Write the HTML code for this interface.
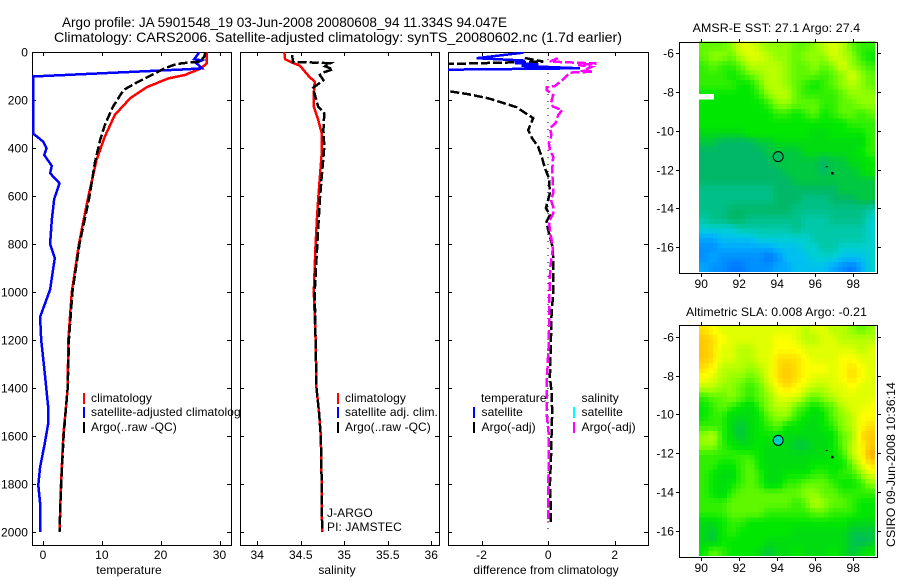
<!DOCTYPE html>
<html>
<head>
<meta charset="utf-8">
<title>Argo profile 5901548_19</title>
<style>
html,body{margin:0;padding:0;background:#fff;}
svg{display:block;}
text{font-family:"Liberation Sans",sans-serif;font-size:12px;fill:#000;letter-spacing:0.08px;}
.ttl{font-size:14px;letter-spacing:0;}
</style>
</head>
<body>
<svg id="chart" xmlns="http://www.w3.org/2000/svg" width="900" height="580" viewBox="0 0 900 580">
  <defs>
    <clipPath id="clip-temp"><rect x="32" y="52" width="199" height="493"/></clipPath>
    <clipPath id="clip-sal"><rect x="240" y="52" width="199" height="493"/></clipPath>
    <clipPath id="clip-diff"><rect x="448" y="52" width="200" height="493"/></clipPath>
  </defs>
  <rect x="0" y="0" width="900" height="580" fill="#fff"/>
  <text class="ttl" x="62" y="27" textLength="445" lengthAdjust="spacingAndGlyphs">Argo profile: JA 5901548_19 03-Jun-2008 20080608_94 11.334S 94.047E</text>
  <text class="ttl" x="54" y="42" textLength="568" lengthAdjust="spacingAndGlyphs">Climatology: CARS2006. Satellite-adjusted climatology: synTS_20080602.nc (1.7d earlier)</text>
  <g id="plots"></g>
  <g id="maps"></g>
  <text x="0" y="0" transform="translate(895 547) rotate(-90)" textLength="165" lengthAdjust="spacingAndGlyphs">CSIRO 09-Jun-2008 10:36:14</text>
</svg>
<script>
// ---- profile data: depths (dbar) and values ----
const tempClimDepth = [0,47,68,96,110,147,193,262,353,450,603,800,1000,1200,1400,1600,1800,2000];
const tempClimValue = [27.8,27.8,26.9,24.1,21.3,17.6,14.8,12.2,10.5,9.1,7.7,6.1,4.9,4.3,4.2,3.45,3.06,2.8];
const tempArgoDepth = [0,20,40,47,54,70,96,128,158,228,304,367,463,603,800,1000,1200,1400,1600,1800,2000];
const tempArgoValue = [27.6,27.4,26.7,23.6,22.2,20.5,18.5,15.9,13.7,11.9,10.5,9.7,8.8,7.9,6.2,5.0,4.4,4.2,3.5,3.1,2.8];
const tempSatDepth = [0,30,35,45,68,72,102,340,346,374,402,429,474,505,547,612,700,800,858,990,1104,1200,1340,1484,1546,1630,1730,1805,1880,2000];
const tempSatValue = [26.6,25.7,27,26,27,24.4,-1.7,-1.7,-1.36,0.06,0.6,0.2,1.5,1.2,2.8,1.9,1.5,1.2,2.0,1.2,-0.5,-0.3,0.3,0.9,0.9,0.3,-0.5,-0.8,-0.5,-0.5];

const salClimDepth = [0,30,44,57,100,124,172,228,283,338,422,520,612,700,800,1000,1200,1400,1505,1600,1800,2000];
const salClimValue = [34.31,34.32,34.40,34.49,34.59,34.66,34.65,34.65,34.70,34.74,34.74,34.72,34.70,34.685,34.67,34.65,34.67,34.68,34.71,34.73,34.74,34.745];
const salArgoDepth = [12,42,44,47,60,72,85,96,117,150,228,255,325,395,520,612,800,1000,1200,1400,1505,1600,1800,2000];
const salArgoValue = [34.40,34.41,34.68,34.84,34.78,34.87,34.76,34.72,34.76,34.64,34.70,34.77,34.76,34.77,34.74,34.72,34.69,34.66,34.67,34.68,34.71,34.73,34.74,34.745];

const diffTempSatDepth = [3,26,36,46,52,58,68,78,100];
const diffTempSatValue = [-0.75,-2.15,-0.7,-1,-0.3,-0.8,0.95,-6,-9];
const diffTempArgoDepth = [25,40,50,55,150,163,176,193,230,276,325,360,395,443,484,525,588,650,679,707,742,817,900,1000,1100,1200,1354,1415,1500,1600,1700,1800,1900,1960];
const diffTempArgoValue = [-0.7,-0.15,-3,-4,-3.3,-3,-2.4,-1.8,-0.95,-0.45,-0.6,-0.48,-0.3,-0.18,-0.1,0.02,0.05,-0.07,0.05,-0.05,0,0.14,0.15,0.15,0.1,0.08,0.05,0.1,0.12,0.1,0.08,0.05,0.08,0.08];
const diffSalArgoDepth = [26,40,47,48,54,62,78,82,86,114,142,147,158,179,214,228,242,262,297,317,346,380,408,436,492,588,617,645,672,707,742,817,900,1000,1200,1400,1500,1600,1720,1800,1960];
const diffSalArgoValue = [0.29,0.05,1.3,1.45,0.9,1.3,1.05,1.35,0.65,0.45,0.2,-0.05,-0.05,0.15,0.08,0.15,0.42,0.3,0.22,0.05,0.1,0.02,0.05,0.15,0.12,0.15,0.08,0.15,0.15,0.02,0.05,0.14,0.06,0.04,0.02,-0.05,-0.05,0.02,0.02,0,0];

// ---- tick labels ----
const depthTicks = [0,200,400,600,800,1000,1200,1400,1600,1800,2000];
const tempTicks = [0,10,20,30];
const salTicks = [34,34.5,35,35.5,36];
const diffTicks = [-2,0,2];
const lonTicks = [90,92,94,96,98];
const latTicks = [-6,-8,-10,-12,-14,-16];

// ---- map grids: colour-scale level per cell, north to south ----
const sstGrid = [
[13,13,13,14,16,16,15,14,14,14,13,13,14,15,16,15,13,12,12],
[13,14,14,13,15,16,16,15,14,14,13,14,14,14,16,15,14,12,11],
[12,13,12,12,13,15,15,15,15,14,13,13,14,13,14,16,14,13,12],
[12,12,12,11,12,13,14,15,15,14,13,13,13,12,13,14,16,14,13],
[12,12,12,12,11,11,13,15,15,14,13,12,11,12,13,14,15,14,13],
[11,11,11,11,11,11,12,14,15,15,13,12,12,12,12,13,14,14,14],
[11,11,11,11,11,11,11,12,14,14,13,13,13,12,12,13,13,14,14],
[11,11,11,11,11,11,11,11,12,12,11,12,13,11,12,13,13,12,13],
[11,11,11,11,11,11,11,11,11,11,11,11,11,11,11,11,12,12,12],
[10,10,10,10,10,11,11,11,11,11,11,11,10,10,11,11,11,11,12],
[9,9,8,8,8,8,9,9,10,10,10,10,10,10,10,10,10,10,12],
[8,8,8,8,8,8,8,9,9,9,9,10,10,10,10,10,10,11,12],
[8,8,8,8,8,8,8,8,9,9,9,9,9,8,9,9,10,10,11],
[8,8,8,8,8,8,8,8,8,9,9,9,9,8,9,9,9,10,11],
[8,8,8,8,8,8,8,8,8,8,9,9,9,9,9,9,9,9,9],
[7,7,7,7,7,7,7,7,8,8,8,8,8,8,8,9,9,9,9],
[7,7,7,7,7,7,7,7,8,8,8,7,7,7,8,8,8,9,9],
[7,7,7,8,8,8,8,8,8,8,7,7,7,7,7,7,7,7,6],
[6,7,7,8,8,7,7,7,7,7,7,6,6,6,7,7,7,7,5],
[5,5,5,5,6,6,6,6,6,6,7,6,6,6,6,6,6,6,5],
[3,3,4,4,4,4,5,5,5,5,5,5,6,6,6,6,6,6,5],
[2,2,3,3,3,3,3,3,4,4,4,5,5,6,6,5,5,5,5],
[2,3,2,2,2,2,2,1,2,4,4,4,5,5,5,4,4,4,5],
[3,2,2,1,1,2,2,2,3,3,4,4,4,4,3,2,1,3,5]
];
const slaGrid = [
[18,17,16,16,16,16,16,16,16,16,16,15,16,16,15,15,14,13,14],
[19,18,17,16,16,16,16,16,17,17,16,15,15,16,16,15,15,15,15],
[19,18,16,16,15,15,16,16,17,17,17,16,16,16,16,16,16,15,16],
[19,18,16,16,15,15,16,16,18,18,18,17,16,16,16,17,17,16,16],
[18,17,15,15,15,14,15,16,18,19,18,17,17,17,16,17,18,17,16],
[17,16,15,14,14,13,14,16,18,19,18,17,16,16,16,17,18,17,16],
[15,15,14,14,13,12,13,15,17,18,17,16,15,15,16,16,17,16,16],
[12,13,13,14,13,12,13,14,16,16,16,14,13,14,15,16,16,16,16],
[11,12,13,12,11,10,12,14,15,15,13,12,11,12,13,15,16,16,17],
[11,12,12,10,10,10,11,13,14,14,12,11,10,11,13,14,15,17,17],
[12,12,12,10,9,10,11,12,13,11,11,10,10,11,12,14,15,17,18],
[14,15,12,10,9,10,11,11,11,10,10,10,10,10,11,13,14,18,19],
[14,14,12,11,10,10,11,10,10,10,9,9,10,10,11,13,15,17,19],
[12,12,12,12,12,12,11,10,10,10,10,10,10,10,11,12,15,17,20],
[12,12,11,11,12,13,11,10,10,10,10,10,11,11,11,11,13,16,18],
[12,11,10,10,12,13,12,10,10,11,11,11,12,12,11,12,12,14,16],
[12,11,10,11,12,13,12,10,10,12,12,13,13,13,12,11,11,12,14],
[12,11,10,12,13,13,13,13,13,13,13,14,14,13,13,12,12,12,12],
[12,12,12,13,13,13,13,13,13,13,12,13,15,14,13,13,12,11,11],
[12,12,12,13,13,13,13,12,12,12,12,12,13,13,12,12,12,11,11],
[10,10,11,12,12,11,11,11,11,11,11,11,11,11,11,11,10,10,10],
[10,9,11,12,11,11,11,11,11,11,10,10,10,10,10,10,9,9,9],
[10,9,11,11,11,11,11,10,10,10,10,10,10,10,10,10,9,8,9],
[11,13,12,11,11,11,10,9,10,10,11,10,10,10,11,10,9,10,11]
];

const levelColors = [[0,96,255],[0,120,255],[0,144,255],[0,168,255],[0,192,240],[0,207,208],[0,200,168],[0,192,136],[0,184,104],[0,200,64],[0,220,16],[0,232,0],[48,240,0],[96,248,0],[144,255,0],[184,255,0],[224,255,0],[255,255,0],[255,224,0],[255,200,0],[255,168,0]];

const NS = 'http://www.w3.org/2000/svg';
function linear(d0,d1,r0,r1){ return v => r0 + (v-d0)*(r1-r0)/(d1-d0); }
function mk(tag,parent,attrs){
  const el = document.createElementNS(NS,tag);
  for(const k in attrs) el.setAttribute(k,attrs[k]);
  parent.appendChild(el);
  return el;
}
const plots = document.getElementById('plots');
const maps = document.getElementById('maps');
const depthY = linear(0,2000,52,532);
const tempX = linear(0,30,43,219.5);
const salX = linear(34,36,257.3,431.3);
const diffX = linear(-2,2,481.6,614.8);

function drawFrame(x0,x1,y0,y1){
  const f = mk('rect',plots,{x:x0+0.5,y:y0+0.5,width:x1-x0,height:y1-y0,fill:'#fff',stroke:'#000','stroke-width':1,'shape-rendering':'crispEdges'});
  
  
}
function tickLine(parent,x1,y1,x2,y2){
  const t = mk('line',parent,{x1:x1,y1:y1,x2:x2,y2:y2,stroke:'#000','stroke-width':1,'shape-rendering':'crispEdges'});
  
  
}
function label(parent,x,y,str,anchor){
  const t = mk('text',parent,{x:x,y:y,'text-anchor':anchor||'start'});
  t.textContent = str;
  
  
  return t;
}
function drawPanel(x0,x1,xScale,xTicks,title,titleX,showDepth){
  drawFrame(x0,x1,52,545);
  xTicks.forEach(v=>{
    const x = Math.round(xScale(v))+0.5;
    tickLine(plots,x,52,x,56);
    tickLine(plots,x,545,x,541);
    label(plots,xScale(v),559,String(v),'middle');
  });
  depthTicks.forEach(d=>{
    const y = Math.round(depthY(d))+0.5;
    tickLine(plots,x0,y,x0+4,y);
    tickLine(plots,x1,y,x1-4,y);
    if(showDepth) label(plots,28,y+4,String(d),'end');
  });
  label(plots,titleX,574,title,'middle');
}
function drawSeries(clip,depths,values,xScale,color,dash,name){
  const pts = depths.map((d,i)=>xScale(values[i]).toFixed(1)+','+depthY(d).toFixed(1)).join(' ');
  const p = mk('polyline',plots,{points:pts,fill:'none',stroke:color,'stroke-width':2.5,'clip-path':'url(#'+clip+')','shape-rendering':'crispEdges'});
  if(dash) p.setAttribute('stroke-dasharray',dash);
  
  
}
function legendBar(x,y,color){
  const b = mk('rect',plots,{x:x,y:y,width:2,height:11,fill:color,'shape-rendering':'crispEdges'});
  
  
}
function legendText(x,y,str){
  const t = mk('text',plots,{x:x,y:y});
  t.textContent = str;
  
  
}

// temperature panel
drawPanel(32,231,tempX,tempTicks,'temperature',129,true);
drawSeries('clip-temp',tempClimDepth,tempClimValue,tempX,'#ff0000',null,'temperature-climatology-line');
drawSeries('clip-temp',tempSatDepth,tempSatValue,tempX,'#0000ff',null,'temperature-satellite-line');
drawSeries('clip-temp',tempArgoDepth,tempArgoValue,tempX,'#000000','9,3','temperature-argo-line');
legendBar(83,393,'#ff0000'); legendBar(83,407,'#0000ff'); legendBar(83,422,'#000000');
legendText(91,402,'climatology');
legendText(91,416,'satellite-adjusted climatology');
legendText(91,431,'Argo(..raw -QC)');

// salinity panel (frame covers overflowing legend text)
drawPanel(240,439,salX,salTicks,'salinity',337,false);
drawSeries('clip-sal',salClimDepth,salClimValue,salX,'#ff0000',null,'salinity-climatology-line');
drawSeries('clip-sal',salArgoDepth,salArgoValue,salX,'#000000','9,3','salinity-argo-line');
legendBar(337,393,'#ff0000'); legendBar(337,407,'#0000ff'); legendBar(337,422,'#000000');
legendText(345,402,'climatology');
legendText(345,416,'satellite adj. clim.');
legendText(345,431,'Argo(..raw -QC)');
legendText(327,517,'J-ARGO');
legendText(327,531,'PI: JAMSTEC');

// difference panel
drawPanel(448,648,diffX,diffTicks,'difference from climatology',546,false);
const zero = mk('line',plots,{x1:diffX(0),y1:52,x2:diffX(0),y2:532,stroke:'#000','stroke-width':1,'stroke-dasharray':'1,6','shape-rendering':'crispEdges'});


drawSeries('clip-diff',diffTempArgoDepth,diffTempArgoValue,diffX,'#000000','9,3','difference-temperature-argo-line');
drawSeries('clip-diff',diffTempSatDepth,diffTempSatValue,diffX,'#0000ff',null,'difference-temperature-satellite-line');
drawSeries('clip-diff',diffSalArgoDepth,diffSalArgoValue,diffX,'#ff00ff','9,3','difference-salinity-argo-line');
legendText(481,402,'temperature');
legendBar(473,407,'#0000ff'); legendBar(473,422,'#000000');
legendText(481.5,416,'satellite');
legendText(481.5,431,'Argo(-adj)');
legendText(581.5,402,'salinity');
legendBar(573,407,'#00ffff'); legendBar(573,422,'#ff00ff');
legendText(581.5,416,'satellite');
legendText(581.5,431,'Argo(-adj)');

// maps: each array cell is resampled onto the finer 0.25-degree display raster
const lonX = linear(90,98,701.3,853.3);
const LON0 = 89.88, LON_STEP = 0.4874, LAT0 = -5.4, LAT_STEP = 0.495, SUB = 2;
function sampleGrid(grid,rf,cf){
  const R = grid.length-1, C = grid[0].length-1;
  const r = Math.max(0,Math.min(R,rf)), c = Math.max(0,Math.min(C,cf));
  const r0 = Math.floor(r), c0 = Math.floor(c);
  const r1 = Math.min(R,r0+1), c1 = Math.min(C,c0+1);
  const fr = r-r0, fc = c-c0;
  return (grid[r0][c0]*(1-fc)+grid[r0][c1]*fc)*(1-fr)+(grid[r1][c0]*(1-fc)+grid[r1][c1]*fc)*fr;
}
function levelColor(v){
  const top = levelColors.length-1;
  const l = Math.max(0,Math.min(top,v));
  const i = Math.min(top-1,Math.floor(l)), f = l-i;
  const a = levelColors[i], b = levelColors[i+1];
  return 'rgb('+Math.round(a[0]+(b[0]-a[0])*f)+','+Math.round(a[1]+(b[1]-a[1])*f)+','+Math.round(a[2]+(b[2]-a[2])*f)+')';
}
function drawMap(grid,top,bottom,y6,y16,circleFill,title,titleX,titleW,titleY,cellName){
  const latY = linear(-6,-16,y6,y16);
  const left = 679, right = 877;
  const rows = grid.length*SUB, cols = grid[0].length*SUB;
  for(let r=0;r<rows;r++){
    for(let c=0;c<cols;c++){
      const x = lonX(LON0 + c*LON_STEP/SUB), xe = lonX(LON0 + (c+1)*LON_STEP/SUB);
      const y = latY(LAT0 - r*LAT_STEP/SUB), ye = latY(LAT0 - (r+1)*LAT_STEP/SUB);
      const v = sampleGrid(grid,(r+0.5)/SUB-0.5,(c+0.5)/SUB-0.5);
      const cell = mk('rect',maps,{x:x.toFixed(2),y:y.toFixed(2),width:(xe-x).toFixed(2),height:(ye-y).toFixed(2),fill:levelColor(v),'shape-rendering':'crispEdges'});
      
      
    }
  }
  const box = mk('rect',maps,{x:left+0.5,y:top+0.5,width:right-left,height:bottom-top,fill:'none',stroke:'#000','stroke-width':1,'shape-rendering':'crispEdges'});
  
  
  lonTicks.forEach(v=>{
    const x = Math.round(lonX(v))+0.5;
    tickLine(maps,x,top,x,top-3);
    tickLine(maps,x,bottom+1,x,bottom+4);
    label(maps,lonX(v),bottom+15,String(v),'middle');
  });
  latTicks.forEach(v=>{
    const y = Math.round(latY(v))+0.5;
    tickLine(maps,left,y,left-3,y);
    tickLine(maps,right+1,y,right+4,y);
    label(maps,674,y+4,String(v),'end');
  });
  const circ = mk('circle',maps,{cx:lonX(94.047),cy:latY(-11.334),r:5,fill:circleFill,stroke:'#000','stroke-width':1});
  
  
  const i1 = mk('rect',maps,{x:lonX(96.55),y:latY(-11.83),width:2,height:1,fill:'#000'});
  
  
  const i2 = mk('rect',maps,{x:lonX(96.83),y:latY(-12.13),width:2.5,height:2.5,fill:'#000'});
  
  
  const t = mk('text',maps,{x:titleX,y:titleY,textLength:titleW,lengthAdjust:'spacingAndGlyphs'});
  t.textContent = title;
  
  
}
drawMap(sstGrid,42,273,53.3,247,'#00bc60','AMSR-E SST: 27.1 Argo: 27.4',692.7,167.5,32,'sst-cell');
const latY1 = linear(-6,-16,53.3,247);
const landPatch = mk('rect',maps,{x:lonX(89.88),y:latY1(-8.1),width:15,height:5.5,fill:'#fff','shape-rendering':'crispEdges'});


drawMap(slaGrid,325,557,336.7,531,'#00d0c0','Altimetric SLA: 0.008 Argo: -0.21',686,181,316,'sla-cell');
</script>
</body>
</html>
